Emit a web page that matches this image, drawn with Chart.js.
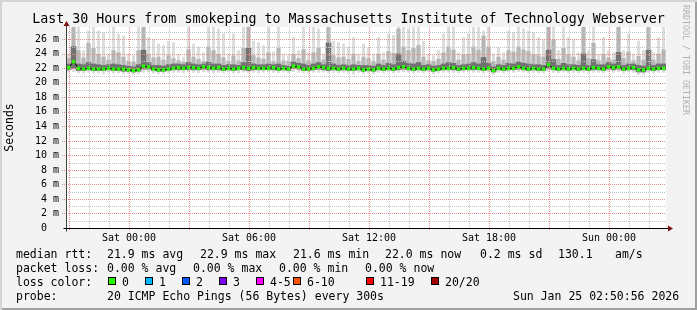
<!DOCTYPE html>
<html>
<head>
<meta charset="utf-8">
<script src="https://cdn.jsdelivr.net/npm/chart.js@4/dist/chart.umd.min.js"></script>
<style>
  body { margin: 0; }
  .frame {
    position: relative; width: 697px; height: 310px; background: #f3f3f3;
    box-shadow: inset 2px 2px 0 #d4d4d4, inset -2px -2px 0 #a0a0a0;
    font-family: 'DejaVu Sans Mono', monospace; color: #000;
  }
  canvas { position: absolute; left: 0; top: 0; }
  .t { position: absolute; font-size: 11.5px; line-height: 14px; white-space: pre; }
  .title { position: absolute; left: 0; top: 11px; width: 697px; text-align: center; font-size: 13.3px; line-height: 16px; white-space: pre; }
  .mark { position: absolute; left: 681px; top: 5px; writing-mode: vertical-rl; font-size: 8.3px; line-height: 10px; color: #b0b0b0; white-space: pre; }
  .sw { position: absolute; top: 277px; width: 6px; height: 6px; border: 1px solid #000; }
</style>
</head>
<body>
<div class="frame">
  <canvas id="smokeChart" width="697" height="310"></canvas>
  <div class="title">Last 30 Hours from smokeping to Massachusetts Institute of Technology Webserver</div>
  <div class="mark">RRDTOOL / TOBI OETIKER</div>

  <span class="t" style="left:16px;top:247px">median rtt:</span>
  <span class="t" style="left:107px;top:247px">21.9 ms avg</span>
  <span class="t" style="left:200px;top:247px">22.9 ms max</span>
  <span class="t" style="left:293px;top:247px">21.6 ms min</span>
  <span class="t" style="left:385px;top:247px">22.0 ms now</span>
  <span class="t" style="left:480px;top:247px">0.2 ms sd</span>
  <span class="t" style="left:558px;top:247px">130.1</span>
  <span class="t" style="left:615px;top:247px">am/s</span>

  <span class="t" style="left:16px;top:261px">packet loss:</span>
  <span class="t" style="left:107px;top:261px">0.00 % avg</span>
  <span class="t" style="left:193px;top:261px">0.00 % max</span>
  <span class="t" style="left:279px;top:261px">0.00 % min</span>
  <span class="t" style="left:365px;top:261px">0.00 % now</span>

  <span class="t" style="left:16px;top:275px">loss color:</span>
  <span class="sw" style="left:108px;background:#26ff00"></span><span class="t" style="left:122px;top:275px">0</span>
  <span class="sw" style="left:145px;background:#00b8ff"></span><span class="t" style="left:159px;top:275px">1</span>
  <span class="sw" style="left:182px;background:#0059ff"></span><span class="t" style="left:196px;top:275px">2</span>
  <span class="sw" style="left:219px;background:#7e00ff"></span><span class="t" style="left:233px;top:275px">3</span>
  <span class="sw" style="left:256px;background:#ff00ff"></span><span class="t" style="left:270px;top:275px">4-5</span>
  <span class="sw" style="left:293px;background:#ff5500"></span><span class="t" style="left:307px;top:275px">6-10</span>
  <span class="sw" style="left:366px;background:#ff0000"></span><span class="t" style="left:380px;top:275px">11-19</span>
  <span class="sw" style="left:431px;background:#a10000"></span><span class="t" style="left:445px;top:275px">20/20</span>

  <span class="t" style="left:16px;top:289px">probe:</span>
  <span class="t" style="left:107px;top:289px">20 ICMP Echo Pings (56 Bytes) every 300s</span>
  <span class="t" style="left:513px;top:289px">Sun Jan 25 02:50:56 2026</span>
</div>

<script>
// samples: 15 min each, starting Fri 20:51 (hours relative to Sat 00:00)
const sampleStart = -3.15
const sampleStep = 0.25

const pMax = [
  24.0, 28, 28, 24.5, 27.2, 28, 27.2, 27.0, 24.0, 28,
  26.8, 26.5, 24.0, 23.8, 28, 28, 26.3, 26.0, 25.4, 25.2,
  25.8, 25.6, 24.0, 23.6, 28, 25.4, 25.0, 24.2, 28, 28,
  27.5, 26.8, 24.0, 26.8, 24.5, 28, 28, 25.8, 25.6, 25.2,
  27.7, 24.3, 28, 24.0, 23.8, 26.3, 24.5, 28, 24.2, 27.7,
  27.5, 24.0, 28, 25.8, 25.6, 25.4, 25.0, 26.3, 24.0, 25.4,
  24.8, 24.0, 26.3, 24.2, 26.8, 26.6, 28, 27.7, 27.5, 27.7,
  28, 25.8, 24.0, 23.8, 24.5, 26.8, 28, 28, 24.2, 26.3,
  26.8, 28, 28, 27.2, 28, 24.0, 24.9, 24.2, 27.2, 27.0,
  27.7, 27.5, 27.2, 27.0, 26.3, 26.0, 28, 28, 24.5, 27.7,
  26.3, 26.0, 24.2, 28, 24.5, 27.7, 24.0, 26.3, 24.5, 24.2,
  28, 24.5, 26.8, 24.0, 25.8, 24.5, 28, 24.2, 26.3, 27.7
]

const p90 = [
  23.4, 28, 24.5, 23.5, 25.5, 24.8, 24.0, 23.6, 23.2, 24.5,
  24.2, 23.6, 23.0, 22.9, 24.5, 28, 24.0, 23.5, 23.6, 23.2,
  23.8, 23.4, 23.1, 22.9, 24.6, 23.6, 23.3, 23.0, 25.0, 24.5,
  24.0, 23.5, 23.0, 23.8, 23.1, 24.8, 28, 23.8, 23.5, 23.3,
  24.2, 23.0, 24.8, 23.1, 23.0, 24.0, 23.4, 24.6, 23.1, 24.2,
  24.8, 23.2, 28, 23.8, 23.5, 23.6, 23.3, 24.0, 23.0, 23.6,
  23.4, 23.0, 24.0, 23.2, 24.4, 24.1, 27.5, 25.0, 24.5, 24.8,
  25.2, 23.6, 23.1, 23.0, 23.3, 24.2, 25.0, 24.6, 23.2, 23.9,
  24.0, 25.0, 24.6, 26.5, 25.0, 23.0, 23.6, 23.2, 24.5, 24.3,
  25.0, 24.6, 24.4, 24.0, 23.8, 23.6, 28, 26.0, 23.3, 24.8,
  23.9, 23.6, 23.1, 28, 23.4, 25.5, 23.1, 24.0, 23.5, 23.2,
  28, 23.4, 24.3, 23.1, 23.7, 23.2, 28, 23.2, 24.0, 24.6
]

const p75 = [
  22.6, 25.0, 22.6, 22.5, 22.8, 22.6, 22.5, 22.4, 22.5, 22.6,
  22.5, 22.4, 22.3, 22.2, 22.5, 24.5, 22.8, 22.4, 22.4, 22.3,
  22.5, 22.6, 22.6, 22.5, 22.8, 22.6, 22.5, 22.6, 22.9, 22.6,
  22.6, 22.4, 22.5, 22.5, 22.4, 22.8, 24.8, 22.6, 22.5, 22.5,
  22.6, 22.5, 22.6, 22.4, 22.3, 22.9, 22.7, 22.6, 22.4, 22.6,
  22.8, 22.5, 25.5, 22.6, 22.4, 22.5, 22.4, 22.5, 22.4, 22.4,
  22.4, 22.3, 22.6, 22.4, 22.7, 22.5, 24.0, 23.0, 22.7, 22.6,
  22.8, 22.4, 22.5, 22.3, 22.4, 22.6, 22.8, 22.7, 22.4, 22.5,
  22.6, 22.8, 22.6, 23.5, 22.7, 22.2, 22.5, 22.4, 22.7, 22.6,
  22.9, 22.7, 22.6, 22.5, 22.5, 22.4, 24.5, 23.2, 22.4, 22.7,
  22.5, 22.5, 22.4, 24.0, 22.4, 23.2, 22.5, 22.5, 22.8, 22.6,
  24.2, 22.4, 22.6, 22.6, 22.4, 22.3, 24.5, 22.4, 22.6, 22.6
]

const median = [
  22.1, 22.9, 22.0, 21.9, 22.0, 21.9, 21.9, 21.9, 22.0, 21.9,
  21.9, 21.9, 21.8, 21.7, 21.8, 22.3, 22.2, 21.9, 21.8, 21.8,
  21.9, 22.0, 22.1, 22.0, 22.1, 22.1, 22.0, 22.2, 22.1, 22.0,
  22.1, 21.9, 22.0, 21.9, 22.0, 22.1, 22.0, 22.1, 22.0, 22.0,
  22.0, 22.1, 21.9, 22.0, 21.9, 22.3, 22.2, 21.9, 21.9, 22.0,
  22.2, 22.1, 22.0, 22.0, 21.9, 22.0, 21.9, 21.9, 22.0, 21.8,
  21.9, 21.8, 22.0, 21.9, 22.0, 21.9, 22.1, 22.2, 22.0, 21.9,
  22.0, 21.9, 22.0, 21.8, 21.9, 22.0, 22.0, 22.1, 21.9, 22.0,
  22.0, 22.1, 22.0, 21.9, 22.0, 21.7, 22.0, 21.9, 22.0, 22.0,
  22.2, 22.0, 21.9, 22.0, 21.9, 21.9, 22.5, 22.0, 21.9, 22.0,
  21.9, 22.0, 21.9, 22.0, 21.9, 22.1, 22.0, 21.9, 22.2, 22.1,
  22.2, 21.9, 22.0, 22.1, 21.8, 21.8, 22.0, 21.9, 22.0, 22.0
]

const p25 = [
  21.8, 22.0, 21.7, 21.7, 21.8, 21.7, 21.7, 21.7, 21.8, 21.7,
  21.7, 21.6, 21.6, 21.5, 21.6, 21.9, 21.9, 21.7, 21.6, 21.6,
  21.7, 21.8, 21.8, 21.8, 21.8, 21.8, 21.8, 21.9, 21.8, 21.8,
  21.8, 21.7, 21.8, 21.7, 21.8, 21.8, 21.7, 21.8, 21.8, 21.8,
  21.8, 21.8, 21.7, 21.8, 21.7, 22.0, 21.9, 21.7, 21.7, 21.8,
  21.9, 21.8, 21.7, 21.8, 21.7, 21.8, 21.7, 21.7, 21.8, 21.6,
  21.7, 21.6, 21.8, 21.7, 21.8, 21.7, 21.8, 21.9, 21.8, 21.7,
  21.8, 21.7, 21.8, 21.6, 21.7, 21.8, 21.8, 21.8, 21.7, 21.8,
  21.8, 21.8, 21.8, 21.7, 21.8, 21.5, 21.8, 21.7, 21.8, 21.8,
  21.9, 21.8, 21.7, 21.8, 21.7, 21.7, 22.0, 21.8, 21.7, 21.8,
  21.7, 21.8, 21.7, 21.8, 21.7, 21.8, 21.8, 21.7, 21.9, 21.8,
  21.9, 21.7, 21.8, 21.8, 21.5, 21.5, 21.8, 21.7, 21.8, 21.8
]

const pMin = [
  21.4, 21.5, 21.3, 21.3, 21.4, 21.3, 21.3, 21.2, 21.4, 21.3,
  21.3, 21.2, 21.2, 21.1, 21.2, 21.4, 21.4, 21.3, 21.2, 21.2,
  21.3, 21.4, 21.4, 21.3, 21.4, 21.4, 21.3, 21.5, 21.4, 21.3,
  21.4, 21.3, 21.4, 21.3, 21.3, 21.4, 21.3, 21.4, 21.3, 21.4,
  21.4, 21.4, 21.3, 21.4, 21.3, 21.5, 21.4, 21.3, 21.3, 21.4,
  21.4, 21.4, 21.3, 21.4, 21.3, 21.4, 21.3, 21.2, 21.4, 21.2,
  21.3, 21.2, 21.4, 21.3, 21.4, 21.3, 21.4, 21.5, 21.4, 21.3,
  21.4, 21.3, 21.4, 21.2, 21.3, 21.4, 21.4, 21.4, 21.3, 21.4,
  21.4, 21.4, 21.4, 21.3, 21.4, 21.1, 21.4, 21.3, 21.4, 21.4,
  21.5, 21.4, 21.3, 21.4, 21.3, 21.3, 21.5, 21.4, 21.3, 21.4,
  21.3, 21.4, 21.3, 21.4, 21.3, 21.4, 21.4, 21.3, 21.5, 21.4,
  21.5, 21.3, 21.4, 21.4, 21.1, 21.1, 21.4, 21.3, 21.4, 21.4
]

const tickHours = [0, 6, 12, 18, 24]
const tickLabels = ['Sat 00:00', 'Sat 06:00', 'Sat 12:00', 'Sat 18:00', 'Sun 00:00']
const xMin = -3.15
const xMax = 26.85
const yMax = 27.7

const monoFont = 'DejaVu Sans Mono'
const majorGrid = '#e88c8c'
const minorGrid = '#c4c4c4'

const sampleX = median.map((v, i) => sampleStart + sampleStep * (i + 0.5))
const band = (lo, hi) => lo.map((v, i) => ({ x: sampleX[i], y: [v, hi[i]] }))

const barOpts = { grouped: false, categoryPercentage: 1, borderWidth: 0, borderSkipped: false }

// white plot area; dotted grid over the smoke but under the median; axes and arrows last
const plotFrame = {
  id: 'plotFrame',
  beforeDraw(chart) {
    const { ctx, chartArea: a } = chart
    ctx.save()
    ctx.fillStyle = '#fff'
    ctx.fillRect(a.left, a.top, a.right - a.left, a.bottom - a.top)
    ctx.restore()
  },
  afterDatasetDraw(chart, args) {
    if (args.index !== 1) return
    const { ctx, chartArea: a, scales: { x, y } } = chart
    ctx.save()
    ctx.lineWidth = 1
    ctx.setLineDash([1, 1])
    for (let v = 1; v <= Math.floor(yMax); v++) {
      const py = Math.round(y.getPixelForValue(v)) + 0.5
      ctx.strokeStyle = v % 2 === 0 ? majorGrid : minorGrid
      ctx.beginPath()
      ctx.moveTo(a.left - (v % 2 === 0 ? 4 : 0), py)
      ctx.lineTo(a.right, py)
      ctx.stroke()
    }
    for (let h = Math.ceil(xMin); h <= Math.floor(xMax); h++) {
      const px = Math.round(x.getPixelForValue(h)) + 0.5
      const major = h % 3 === 0
      ctx.strokeStyle = major ? majorGrid : minorGrid
      ctx.beginPath()
      ctx.moveTo(px, a.top)
      ctx.lineTo(px, a.bottom + (major ? 3 : 0))
      ctx.stroke()
    }
    ctx.restore()
  },
  afterDraw(chart) {
    const { ctx, chartArea: a } = chart
    const x0 = Math.round(a.left) + 0.5
    const y0 = Math.round(a.bottom) + 0.5
    ctx.save()
    ctx.lineWidth = 1
    ctx.strokeStyle = '#404040'
    ctx.beginPath()
    ctx.moveTo(x0, a.top - 3)
    ctx.lineTo(x0, y0 + 3)
    ctx.stroke()
    ctx.strokeStyle = '#000'
    ctx.beginPath()
    ctx.moveTo(x0 - 3, y0)
    ctx.lineTo(a.right + 3, y0)
    ctx.stroke()
    ctx.fillStyle = '#7f1010'
    ctx.beginPath()
    ctx.moveTo(x0 - 3, a.top - 1)
    ctx.lineTo(x0 + 3, a.top - 1)
    ctx.lineTo(x0, a.top - 6)
    ctx.closePath()
    ctx.fill()
    ctx.beginPath()
    ctx.moveTo(a.right + 2, y0 - 3)
    ctx.lineTo(a.right + 2, y0 + 3)
    ctx.lineTo(a.right + 7, y0)
    ctx.closePath()
    ctx.fill()
    ctx.restore()
  }
}

const ctx = document.getElementById('smokeChart').getContext('2d')
new Chart(ctx, {
  type: 'bar',
  data: {
    datasets: [
      {
        type: 'line',
        data: median.map((v, i) => ({ x: sampleX[i], y: v })),
        borderColor: '#000',
        borderWidth: 1,
        pointStyle: 'rect',
        pointRadius: 2.4,
        pointBackgroundColor: '#26ff00',
        pointBorderWidth: 0,
        order: 0
      },
      { data: band(p25, p75), backgroundColor: '#727272', barPercentage: 1, order: 1, ...barOpts },
      { data: band(p25, p90), backgroundColor: '#b6b6b6', barPercentage: 0.85, order: 2, ...barOpts },
      { data: band(pMin, pMax), backgroundColor: '#dddddd', barPercentage: 0.6, order: 3, ...barOpts }
    ]
  },
  options: {
    responsive: false,
    animation: false,
    events: [],
    layout: { padding: { left: 0, right: 31, top: 27, bottom: 62 } },
    plugins: { legend: { display: false }, tooltip: { enabled: false } },
    scales: {
      x: {
        type: 'linear',
        min: xMin,
        max: xMax,
        bounds: 'data',
        offset: false,
        afterBuildTicks: axis => {
          axis.ticks = tickHours.map(h => ({ value: h }))
        },
        afterFit: axis => { axis.height = 20 },
        grid: { display: false, offset: false, tickLength: 3 },
        border: { display: false },
        ticks: {
          autoSkip: false,
          maxRotation: 0,
          padding: 1,
          color: '#000',
          font: { family: monoFont, size: 10 },
          callback: v => tickLabels[tickHours.indexOf(v)]
        }
      },
      y: {
        min: 0,
        max: yMax,
        bounds: 'data',
        afterBuildTicks: axis => {
          const ticks = []
          for (let v = 0; v <= Math.floor(yMax); v += 2) ticks.push({ value: v })
          axis.ticks = ticks
        },
        afterFit: axis => { axis.width = 66 },
        grid: { display: false, tickLength: 4 },
        border: { display: false },
        title: {
          display: true,
          text: 'Seconds',
          color: '#000',
          font: { family: monoFont, size: 11.5 },
          padding: { top: 3, bottom: 0 }
        },
        ticks: {
          autoSkip: false,
          padding: 3,
          color: '#000',
          font: { family: monoFont, size: 10 },
          callback: v => v === 0 ? '0  ' : v + ' m'
        }
      }
    }
  },
  plugins: [plotFrame]
})
</script>
</body>
</html>
